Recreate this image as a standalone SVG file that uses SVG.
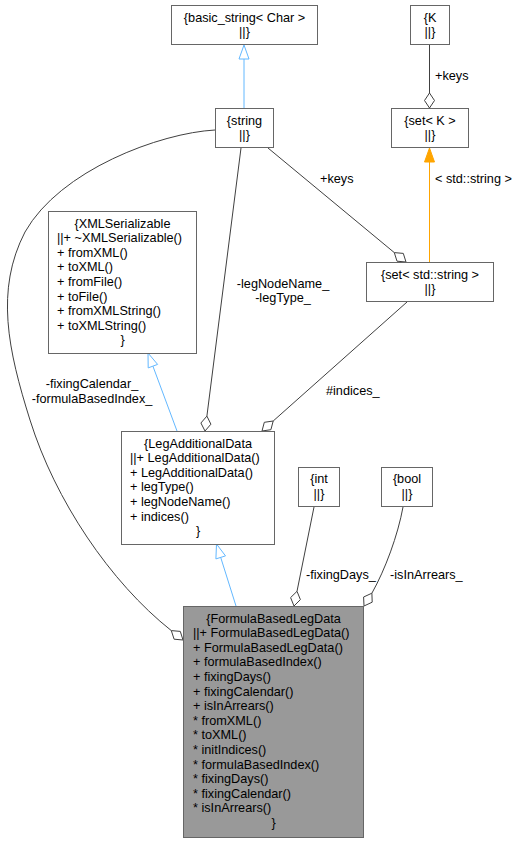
<svg xmlns="http://www.w3.org/2000/svg" width="522" height="843" viewBox="0 0 522 843">
<style>
text{font-family:"Liberation Sans",Arial,sans-serif;font-size:12.7px;fill:#000}
.c{text-anchor:middle}
.box{fill:#fff;stroke:#666;stroke-width:1}
.cur{fill:#999;stroke:#666;stroke-width:1}
.e{fill:none;stroke:#404040;stroke-width:1}
.dm{fill:#fff;stroke:#404040;stroke-width:1}
.inh{fill:none;stroke:#63B8FF;stroke-width:1}
.tri{fill:#fff;stroke:#63B8FF;stroke-width:1}
.tpl{fill:none;stroke:#FFA500;stroke-width:1}
.tplh{fill:#FFA500;stroke:#FFA500;stroke-width:1}
</style>
<rect width="522" height="843" fill="#fff"/>
<g id="connectors">
<path class="inh" d="M244,108 L244,59"/>
<polygon class="tri" points="244,45 239,59 249,59"/>
<path class="e" d="M429.5,45 L429.5,93"/>
<polygon class="dm" points="429.5,108 424.5,100.5 429.5,93 434.5,100.5"/>
<text x="435" y="80">+keys</text>
<path class="tpl" d="M429.5,262 L429.5,162"/>
<polygon class="tplh" points="429.5,148 424.5,162 434.5,162"/>
<text x="435" y="183">&lt; std::string &gt;</text>
<path class="e" d="M268,148 L394.3,252.6"/>
<polygon class="dm" points="406,262 397,261.2 394.3,252.6 403.3,253.4"/>
<text x="320" y="183">+keys</text>
<path class="e" d="M241,148 L206.9,416.1"/>
<polygon class="dm" points="205,431 200.9,423 206.9,416.1 210.9,424.2"/>
<text class="c" x="283" y="288">-legNodeName_</text>
<text class="c" x="283" y="302">-legType_</text>
<path class="e" d="M407,302 L273.2,421"/>
<polygon class="dm" points="262,431 264.3,422.3 273.2,421 270.9,429.7"/>
<text x="326" y="395">#indices_</text>
<path class="inh" d="M177,431 L152.9,366.1"/>
<polygon class="tri" points="148,353 157.6,364.4 148.2,367.9"/>
<path class="e" d="M215,130 C160,133 60,170 25,232 C-5,290 8,350 30,420 C55,500 110,582 171.3,630.6"/>
<polygon class="dm" points="183,640 174.1,639.2 171.3,630.6 180.3,631.4"/>
<text class="c" x="92" y="388">-fixingCalendar_</text>
<text class="c" x="92" y="403">-formulaBasedIndex_</text>
<path class="inh" d="M236,606 L220.7,557.4"/>
<polygon class="tri" points="216.5,544 225.5,555.9 215.9,558.9"/>
<path class="e" d="M314,507 L297,591.3"/>
<polygon class="dm" points="294,606 290.6,597.6 297,591.3 300.4,599.6"/>
<text x="306" y="579">-fixingDays_</text>
<path class="e" d="M403,507 C398,535 385,570 371.9,593.2"/>
<polygon class="dm" points="364,606 363.6,597 371.9,593.2 372.2,602.2"/>
<text x="390" y="579">-isInArrears_</text>
</g>
<g id="basic_string">
<rect class="box" x="171.5" y="5.5" width="146" height="39"/>
<text class="c" x="244.5" y="21.5">{basic_string&lt; Char &gt;</text>
<text class="c" x="244.5" y="36.1">||}</text>
</g>
<g id="K">
<rect class="box" x="410.5" y="5.5" width="39" height="39"/>
<text class="c" x="430" y="21.5">{K</text>
<text class="c" x="430" y="36.1">||}</text>
</g>
<g id="string">
<rect class="box" x="215.5" y="108.5" width="58" height="39"/>
<text class="c" x="244.5" y="124.5">{string</text>
<text class="c" x="244.5" y="139.1">||}</text>
</g>
<g id="setK">
<rect class="box" x="391.5" y="108.5" width="77" height="39"/>
<text class="c" x="430" y="124.5">{set&lt; K &gt;</text>
<text class="c" x="430" y="139.1">||}</text>
</g>
<g id="setString">
<rect class="box" x="366.5" y="262.5" width="127" height="39"/>
<text class="c" x="430" y="278.5">{set&lt; std::string &gt;</text>
<text class="c" x="430" y="293.1">||}</text>
</g>
<g id="XMLSerializable">
<rect class="box" x="48.5" y="211.5" width="148" height="142"/>
<text class="c" x="122.5" y="227.5">{XMLSerializable</text>
<text x="57" y="242.1">||+ ~XMLSerializable()</text>
<text x="57" y="256.7">+ fromXML()</text>
<text x="57" y="271.3">+ toXML()</text>
<text x="57" y="285.9">+ fromFile()</text>
<text x="57" y="300.5">+ toFile()</text>
<text x="57" y="315.1">+ fromXMLString()</text>
<text x="57" y="329.7">+ toXMLString()</text>
<text class="c" x="122.5" y="344.3">}</text>
</g>
<g id="LegAdditionalData">
<rect class="box" x="121.5" y="431.5" width="153" height="113"/>
<text class="c" x="198" y="447.5">{LegAdditionalData</text>
<text x="130" y="462.1">||+ LegAdditionalData()</text>
<text x="130" y="476.7">+ LegAdditionalData()</text>
<text x="130" y="491.3">+ legType()</text>
<text x="130" y="505.9">+ legNodeName()</text>
<text x="130" y="520.5">+ indices()</text>
<text class="c" x="198" y="535.1">}</text>
</g>
<g id="int">
<rect class="box" x="298.5" y="467.5" width="41" height="39"/>
<text class="c" x="319" y="483">{int</text>
<text class="c" x="319" y="497.6">||}</text>
</g>
<g id="bool">
<rect class="box" x="381.5" y="467.5" width="51" height="39"/>
<text class="c" x="407" y="483">{bool</text>
<text class="c" x="407" y="497.6">||}</text>
</g>
<g id="FormulaBasedLegData">
<rect class="cur" x="183.5" y="606.5" width="180" height="231"/>
<text class="c" x="273.5" y="622.5">{FormulaBasedLegData</text>
<text x="193" y="637.1">||+ FormulaBasedLegData()</text>
<text x="193" y="651.7">+ FormulaBasedLegData()</text>
<text x="193" y="666.3">+ formulaBasedIndex()</text>
<text x="193" y="680.9">+ fixingDays()</text>
<text x="193" y="695.5">+ fixingCalendar()</text>
<text x="193" y="710.1">+ isInArrears()</text>
<text x="193" y="724.7">* fromXML()</text>
<text x="193" y="739.3">* toXML()</text>
<text x="193" y="753.9">* initIndices()</text>
<text x="193" y="768.5">* formulaBasedIndex()</text>
<text x="193" y="783.1">* fixingDays()</text>
<text x="193" y="797.7">* fixingCalendar()</text>
<text x="193" y="812.3">* isInArrears()</text>
<text class="c" x="273.5" y="826.9">}</text>
</g>
</svg>
